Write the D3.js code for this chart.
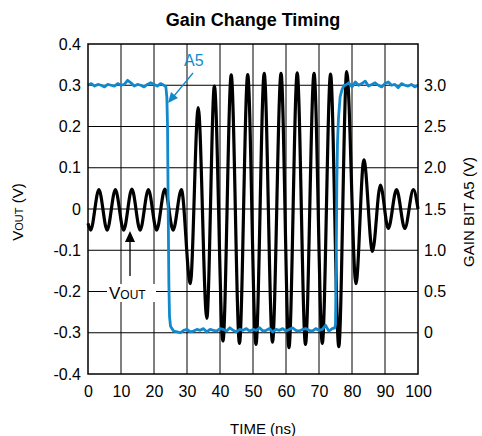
<!DOCTYPE html>
<html><head><meta charset="utf-8">
<script src="https://cdn.jsdelivr.net/npm/d3@7"></script>
<style>body{margin:0;background:#fff;} text{font-family:"Liberation Sans",Arial,sans-serif;}</style>
</head><body><svg id="c" width="482" height="436"></svg>
<script>
// ---- data ----
const xTicks = [0,10,20,30,40,50,60,70,80,90,100];
const leftTicks = [-0.4,-0.3,-0.2,-0.1,0,0.1,0.2,0.3,0.4];
const leftTickLabels = ["-0.4","-0.3","-0.2","-0.1","0","0.1","0.2","0.3","0.4"];
const rightTicks = [0,0.5,1.0,1.5,2.0,2.5,3.0];
const rightTickLabels = ["0","0.5","1.0","1.5","2.0","2.5","3.0"];
// VOUT waveform extrema (ns, V)
const voutTime = [0,0.8,3.3,5.8,8.3,10.8,13.3,15.8,18.3,20.8,23.3,25.8,28.3,31.0,33.4,36.0,38.3,40.9,43.4,45.9,48.4,50.9,53.4,55.9,58.5,60.9,63.4,65.9,68.5,71.0,73.5,76.0,78.4,81.2,83.6,86.2,88.6,91.0,93.5,96.0,98.6,100];
const voutValue = [-0.035,-0.051,0.047,-0.051,0.047,-0.051,0.048,-0.051,0.047,-0.051,0.048,-0.051,0.047,-0.181,0.246,-0.265,0.298,-0.320,0.325,-0.326,0.326,-0.328,0.329,-0.323,0.329,-0.336,0.330,-0.328,0.329,-0.326,0.327,-0.334,0.333,-0.181,0.119,-0.103,0.058,-0.047,0.047,-0.047,0.047,0.0];
// Gain bit A5 (ns, V on right axis)
const a5Time = [0,1,2,3,4,5,6,7,8,9,10,11,12,13,14,15,16,17,18,19,20,21,22,23,23.6,23.9,24.1,24.3,24.5,24.7,25.0,25.6,
  26,27,28,29,30,31,32,33,34,35,36,37,38,39,40,41,42,43,44,45,46,47,48,49,50,51,52,53,54,55,56,57,58,59,60,61,62,63,64,65,66,67,68,69,70,71,72,73,74,74.8,
  75.0,75.2,75.4,75.6,75.9,76.4,77.0,77.6,78,79,80,81,82,83,84,85,86,87,88,89,90,91,92,93,94,95,96,97,98,99,100];
const a5Value = [3.00,3.02,2.99,3.01,3.00,2.98,3.01,3.00,2.99,3.02,3.00,3.01,3.06,3.03,2.99,3.01,3.00,2.98,3.01,3.03,3.01,2.99,3.02,3.00,2.98,2.85,2.5,1.5,0.6,0.2,0.08,0.04,
  0.02,0.01,0.00,0.03,0.04,0.01,0.02,0.04,0.03,0.05,0.01,0.04,0.03,0.02,0.05,0.04,0.02,0.06,0.03,0.01,0.04,0.03,0.05,0.02,0.04,0.03,0.06,0.02,0.03,0.05,0.01,0.04,0.03,0.05,0.02,0.04,0.06,0.03,0.02,0.04,0.05,0.03,0.02,0.05,0.03,0.04,0.09,0.02,0.05,0.06,
  0.10,0.8,1.8,2.3,2.6,2.86,2.95,3.00,3.00,3.03,2.98,3.04,3.00,3.02,3.05,2.99,3.01,3.03,3.00,2.98,3.02,3.04,3.00,3.01,2.97,3.02,3.00,2.99,3.01,2.98,3.00];

// ---- layout ----
const L=88,R=418,T=44,B=374;
const svg=d3.select("#c");
const x=d3.scaleLinear().domain([0,100]).range([L,R]);
const y=d3.scaleLinear().domain([-0.4,0.4]).range([B,T]);
const y2=d3.scaleLinear().domain([-0.5,3.5]).range([B,T]);
const blue="#1289cc";

// grid
const g=svg.append("g");
g.selectAll(".vx").data(xTicks.slice(1,-1)).enter().append("line")
  .attr("x1",d=>x(d)).attr("x2",d=>x(d)).attr("y1",T).attr("y2",B).attr("stroke","#000").attr("stroke-width",1);
g.selectAll(".hy").data(leftTicks.slice(1,-1)).enter().append("line")
  .attr("x1",L).attr("x2",R).attr("y1",d=>y(d)).attr("y2",d=>y(d)).attr("stroke","#000").attr("stroke-width",1);

// axes (labels only)
const fs=16;
const xa=svg.append("g").attr("transform",`translate(0,${B})`).call(d3.axisBottom(x).tickValues(xTicks).tickSize(0).tickPadding(12));
const ya=svg.append("g").attr("transform",`translate(${L},0)`).call(d3.axisLeft(y).tickValues(leftTicks).tickFormat((d,i)=>leftTickLabels[i]).tickSize(0).tickPadding(7));
const y2a=svg.append("g").attr("transform",`translate(${R},0)`).call(d3.axisRight(y2).tickValues(rightTicks).tickFormat((d,i)=>rightTickLabels[i]).tickSize(0).tickPadding(6));
[xa,ya,y2a].forEach(a=>{a.select(".domain").remove();a.selectAll("text").attr("font-size",fs).attr("fill","#000").style("font-family","Liberation Sans, Arial, sans-serif");});

// VOUT annotation background and text
svg.append("rect").attr("x",107).attr("y",284).attr("width",49).attr("height",18).attr("fill","#fff");
const vt=svg.append("text").attr("x",109).attr("y",299).attr("font-size",17);
vt.append("tspan").text("V");
vt.append("tspan").attr("font-size",12).text("OUT");
// arrow up
svg.append("line").attr("x1",130).attr("x2",130).attr("y1",276).attr("y2",240).attr("stroke","#000").attr("stroke-width",1.3);
svg.append("path").attr("d","M130,231 L125,242 L135,242 Z").attr("fill","#000");

// lines
const lineV=d3.line().x((d,i)=>x(voutTime[i])).y((d,i)=>y(voutValue[i])).curve(d3.curveMonotoneX);
svg.append("path").attr("d",lineV(voutTime)).attr("fill","none").attr("stroke","#000").attr("stroke-width",3.2).attr("stroke-linejoin","round");
const lineA=d3.line().x((d,i)=>x(a5Time[i])).y((d,i)=>y2(a5Value[i])).curve(d3.curveLinear);
svg.append("path").attr("d",lineA(a5Time)).attr("fill","none").attr("stroke",blue).attr("stroke-width",2.8).attr("stroke-linejoin","round");

// frame
svg.append("rect").attr("x",L).attr("y",T).attr("width",R-L).attr("height",B-T).attr("fill","none").attr("stroke","#000").attr("stroke-width",1.5);

// A5 annotation
svg.append("text").attr("x",184).attr("y",66).attr("font-size",16).attr("fill",blue).text("A5");
svg.append("line").attr("x1",193).attr("y1",73).attr("x2",174).attr("y2",96).attr("stroke",blue).attr("stroke-width",1.3);
svg.append("path").attr("d","M168,103 L171,92 L178,98 Z").attr("fill",blue);

// title and axis titles
svg.append("text").attr("x",253).attr("y",26).attr("text-anchor","middle").attr("font-size",18).attr("font-weight","bold").text("Gain Change Timing");
svg.append("text").attr("x",263).attr("y",434).attr("text-anchor","middle").attr("font-size",15).text("TIME (ns)");
const yl=svg.append("text").attr("transform","translate(23,212) rotate(-90)").attr("text-anchor","middle").attr("font-size",15);
yl.append("tspan").text("V");
yl.append("tspan").attr("font-size",11).text("OUT");
yl.append("tspan").text(" (V)");
svg.append("text").attr("transform","translate(474,212) rotate(-90)").attr("text-anchor","middle").attr("font-size",15).text("GAIN BIT A5 (V)");
</script></body></html>
